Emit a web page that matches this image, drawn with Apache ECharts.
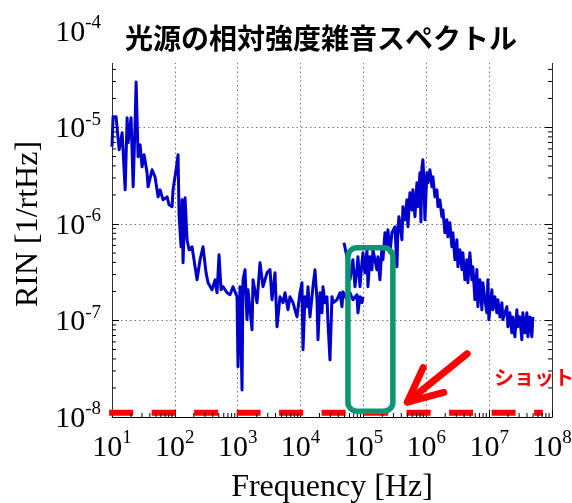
<!DOCTYPE html>
<html>
<head>
<meta charset="utf-8">
<script src="https://cdn.jsdelivr.net/npm/echarts@6/dist/echarts.min.js"></script>
<style>
  html, body { margin: 0; padding: 0; background: #fff; }
  #chart { width: 572px; height: 503px; }
</style>
</head>
<body>
<div id="chart"></div>
<script>
// Relative intensity noise of the light source, two overlapping measurement spans
const lowFreq = [
  10.0, 10.4, 11.6, 13.0, 14.5, 16.2, 17.4, 18.0, 20.1, 21.7,
  23.3, 24.2, 26.0, 28.0, 30.1, 32.4, 36.1, 37.5, 43.4, 48.4,
  54.1, 58.2, 64.9, 75.2, 80.9, 90.3, 93.6, 104.5, 112.4, 116.6,
  125.5, 130.2, 135.0, 145.3, 156.3, 168.2, 187.7, 209.6, 225.4, 251.6,
  280.8, 313.4, 337.3, 390.4, 435.8, 468.8, 504.5, 542.8, 584.1, 676.1,
  754.6, 842.2, 975, 1011, 1088, 1171, 1214, 1307, 1406, 1459,
  1689, 1752, 2028, 2263, 2526, 2924, 3264, 3512, 3920, 4217,
  4707, 5253, 5653, 6308, 6788, 7577, 8770, 9788, 10530, 10930,
  11750, 12650, 13120, 14110, 15750, 16950, 18240, 18920, 20360, 21910,
  22720, 24450, 26300, 27290, 29370, 31590, 32770, 37930, 42340, 45550,
  47250, 54700, 61050, 68140, 78890, 81830, 88060, 94730, 98260
];
const lowRin = [
  6.31e-6, 1.29e-5, 1.29e-5, 5.87e-6, 8.81e-6, 2.26e-6, 1.26e-5, 6.94e-6, 1.26e-5, 2.43e-6,
  1.12e-5, 2.97e-5, 4.97e-6, 6.62e-6, 3.91e-6, 5.21e-6, 3.39e-6, 2.43e-6, 3.65e-6, 3.08e-6,
  1.91e-6, 2.26e-6, 1.78e-6, 1.91e-6, 1.58e-6, 1.51e-6, 2.26e-6, 3.65e-6, 5.21e-6, 1.25e-6,
  5.80e-7, 1.78e-6, 3.96e-7, 1.87e-6, 6.86e-7, 5.40e-7, 5.80e-7, 3.60e-7, 2.64e-7, 4.26e-7,
  5.80e-7, 3.12e-7, 2.46e-7, 2.08e-7, 2.64e-7, 1.94e-7, 4.80e-7, 2.08e-7, 2.24e-7, 1.94e-7,
  1.85e-7, 2.24e-7, 1.76e-7, 3.31e-8, 2.24e-7, 1.91e-8, 2.64e-7, 3.35e-7, 1.02e-7, 2.08e-7,
  8.01e-8, 2.64e-7, 1.53e-7, 3.96e-7, 2.24e-7, 3.12e-7, 3.37e-7, 1.64e-7, 3.12e-7, 8.61e-8,
  1.76e-7, 1.53e-7, 1.94e-7, 1.29e-7, 1.76e-7, 1.53e-7, 1.09e-7, 1.94e-7, 2.46e-7, 4.97e-8,
  1.76e-7, 1.39e-7, 2.24e-7, 1.09e-7, 2.24e-7, 3.35e-7, 1.64e-7, 6.31e-8, 1.94e-7, 1.20e-7,
  2.24e-7, 1.53e-7, 1.76e-7, 9.47e-8, 3.91e-8, 1.76e-7, 1.53e-7, 1.64e-7, 1.94e-7, 1.39e-7,
  1.98e-7, 1.64e-7, 1.94e-7, 1.64e-7, 1.85e-7, 1.20e-7, 1.76e-7, 1.53e-7, 1.76e-7
];
const highFreq = [
  49000, 54700, 61100, 65700, 68100, 73300, 78900, 81800, 88100, 94700,
  98300, 105700, 113800, 118000, 127000, 136600, 141700, 164100, 170200, 183100,
  197000, 204400, 219900, 236600, 245400, 264100, 284100, 317100, 341200, 353900,
  367100, 409800, 425000, 457300, 492000, 510400, 549200, 590900, 613000, 659500,
  709600, 736000, 792000, 821500, 852200, 884000, 917000, 951000, 1.023e6, 1.061e6,
  1.142e6, 1.229e6, 1.275e6, 1.372e6, 1.476e6, 1.531e6, 1.647e6, 1.772e6, 1.838e6, 1.978e6,
  2.128e6, 2.208e6, 2.375e6, 2.556e6, 2.651e6, 2.852e6, 3.069e6, 3.184e6, 3.425e6, 3.686e6,
  3.823e6, 4.114e6, 4.426e6, 4.591e6, 4.940e6, 5.315e6, 5.513e6, 5.932e6, 6.383e6, 6.621e6,
  7.124e6, 7.665e6, 7.951e6, 8.556e6, 9.204e6, 9.548e6, 9.90e6, 1.105e7, 1.147e7, 1.234e7,
  1.327e7, 1.377e7, 1.482e7, 1.594e7, 1.654e7, 1.914e7, 1.986e7, 2.136e7, 2.298e7, 2.384e7,
  2.566e7, 2.761e7, 2.864e7, 3.081e7, 3.316e7, 3.439e7, 3.701e7, 3.981e7, 4.130e7, 4.444e7,
  4.781e7, 4.960e7
];
const highRin = [
  6.39e-7, 4.57e-7, 2.64e-7, 3.60e-7, 4.26e-7, 2.24e-7, 3.37e-7, 4.57e-7, 2.24e-7, 3.96e-7,
  5.03e-7, 3.12e-7, 5.40e-7, 2.24e-7, 4.57e-7, 3.35e-7, 5.40e-7, 3.35e-7, 4.57e-7, 2.64e-7,
  5.80e-7, 4.26e-7, 8.11e-7, 5.80e-7, 8.71e-7, 5.03e-7, 8.11e-7, 9.35e-7, 3.60e-7, 8.71e-7,
  1.19e-6, 6.86e-7, 1.51e-6, 1.105e-6, 1.78e-6, 9.35e-7, 2.11e-6, 1.40e-6, 2.26e-6, 1.19e-6,
  2.67e-6, 1.51e-6, 3.39e-6, 1.05e-6, 3.91e-6, 4.63e-6, 2.87e-6, 1.105e-6, 3.39e-6, 2.67e-6,
  3.65e-6, 2.43e-6, 3.08e-6, 1.91e-6, 2.26e-6, 1.51e-6, 1.78e-6, 1.19e-6, 1.40e-6, 8.11e-7,
  1.105e-6, 7.37e-7, 1.03e-6, 5.80e-7, 8.11e-7, 4.26e-7, 6.86e-7, 3.60e-7, 5.40e-7, 3.37e-7,
  5.03e-7, 2.64e-7, 4.26e-7, 2.46e-7, 5.03e-7, 2.64e-7, 3.60e-7, 1.64e-7, 3.37e-7, 1.39e-7,
  2.64e-7, 1.29e-7, 2.46e-7, 1.64e-7, 1.20e-7, 2.64e-7, 1.02e-7, 2.08e-7, 1.29e-7, 1.76e-7,
  1.20e-7, 1.64e-7, 1.09e-7, 1.53e-7, 1.02e-7, 1.39e-7, 8.61e-8, 1.20e-7, 7.46e-8, 1.09e-7,
  6.78e-8, 1.29e-7, 8.61e-8, 1.09e-7, 6.31e-8, 1.20e-7, 7.46e-8, 1.20e-7, 6.78e-8, 1.09e-7,
  6.78e-8, 1.09e-7
];

// Shot-noise level (dashed line) and its frequency span
const shotLevel = 1.11e-8;
const shotSpan = [9, 7.14e7];

// Highlighted band (frequency range, RIN range)
const boxFreq = [5.67e4, 2.94e5];
const boxRin = [1.146e-8, 5.67e-7];

// Arrow pointing at the shot-noise line: tail, tip, and the two barb ends
const arrowTail = [4.47e6, 4.52e-8];
const arrowTip = [5.0e5, 1.43e-8];
const arrowBarbA = [8.925e5, 3.25e-8];
const arrowBarbB = [1.9e6, 1.80e-8];
const shotLabelAt = [1.19e7, 2.55e-8];

// Axis ranges and decade ticks
const xRange = [1e1, 1e8];
const yRange = [1e-8, 1e-4];
const minorSteps = [2, 3, 4, 5, 6, 7, 8, 9];

const titleText = '光源の相対強度雑音スペクトル';
const shotText = 'ショット';
const xName = 'Frequency [Hz]';
const yName = 'RIN [1/rtHz]';

const serif = '"Liberation Serif", "Times New Roman", serif';
const cjk = '"Noto Sans CJK JP", "Noto Sans CJK SC", sans-serif';

function powLabel(v) {
  const e = Math.round(Math.log10(v));
  return '{b|10}{s|' + e + '}';
}
const powRich = {
  b: { fontFamily: serif, fontSize: 30, lineHeight: 34, color: '#000', verticalAlign: 'bottom' },
  s: { fontFamily: serif, fontSize: 19, lineHeight: 22, color: '#000', verticalAlign: 'top' }
};

const chart = echarts.init(document.getElementById('chart'), null, { renderer: 'canvas' });

const option = {
  animation: false,
  backgroundColor: '#fff',
  title: {
    text: titleText,
    left: 125, top: 24, padding: 0, z: 60,
    textStyle: { fontFamily: cjk, fontSize: 28, fontWeight: 'bold', color: '#000' }
  },
  grid: { left: 112, right: 20, top: 31, bottom: 86, containLabel: false, outerBoundsMode: 'none' },
  xAxis: {
    type: 'log', logBase: 10, min: xRange[0], max: xRange[1],
    name: xName, nameLocation: 'middle', nameGap: 55,
    nameTextStyle: { fontFamily: serif, fontSize: 32, color: '#000' },
    axisLine: { show: true, onZero: false, lineStyle: { color: '#000', width: 1 } },
    axisTick: { show: true, inside: true, length: 7, lineStyle: { color: '#000', width: 1 } },
    axisLabel: { margin: 12, formatter: powLabel, rich: powRich, showMinLabel: true, showMaxLabel: true },
    splitLine: { show: true, lineStyle: { color: '#777', width: 1, type: [1.5, 3] } }
  },
  yAxis: [
    {
      type: 'log', logBase: 10, min: yRange[0], max: yRange[1], position: 'left',
      name: yName, nameLocation: 'middle', nameGap: 66, nameRotate: 90,
      nameTextStyle: { fontFamily: serif, fontSize: 32, color: '#000' },
      axisLine: { show: true, onZero: false, lineStyle: { color: '#333', width: 1 } },
      axisTick: { show: true, inside: true, length: 7, lineStyle: { color: '#000', width: 1 } },
      axisLabel: { margin: 11, formatter: powLabel, rich: powRich, showMinLabel: true, showMaxLabel: true },
      splitLine: { show: true, lineStyle: { color: '#777', width: 1, type: [1.5, 3] } }
    },
    {
      type: 'log', logBase: 10, min: yRange[0], max: yRange[1], position: 'right',
      axisLine: { show: true, onZero: false, lineStyle: { color: '#333', width: 1 } },
      axisTick: { show: true, inside: true, length: 7, lineStyle: { color: '#000', width: 1 } },
      axisLabel: { show: false },
      splitLine: { show: false }
    }
  ],
  series: [
    {
      type: 'line', symbol: 'none', z: 3,
      data: lowFreq.map((f, i) => [f, lowRin[i]]),
      lineStyle: { color: '#0000cd', width: 3, join: 'round' }
    },
    {
      type: 'line', symbol: 'none', z: 3,
      data: highFreq.map((f, i) => [f, highRin[i]]),
      lineStyle: { color: '#0000cd', width: 3, join: 'round' }
    },
    {
      type: 'line', symbol: 'none', z: 4, clip: false,
      data: shotSpan.map(f => [f, shotLevel]),
      lineStyle: { color: '#ff0000', width: 6, type: [24, 18.5], cap: 'butt' }
    }
  ]
};
chart.setOption(option);

// Annotations placed through the axes' own scales
const toPx = (pt) => chart.convertToPixel({ xAxisIndex: 0, yAxisIndex: 0 }, pt);
const graphics = [];

// minor ticks at 2..9 within each decade
const [xl, yb] = toPx([xRange[0], yRange[0]]);
const [xr, yt] = toPx([xRange[1], yRange[1]]);
for (let k = 1; k < 8; k++) {
  for (const m of minorSteps) {
    const x = toPx([m * Math.pow(10, k), yRange[0]])[0];
    graphics.push({ type: 'line', z: 5, shape: { x1: x, y1: yb, x2: x, y2: yb - 4 }, style: { stroke: '#000', lineWidth: 1 } });
  }
}
for (let k = -8; k < -4; k++) {
  for (const m of minorSteps) {
    const y = toPx([xRange[0], m * Math.pow(10, k)])[1];
    graphics.push({ type: 'line', z: 5, shape: { x1: xl, y1: y, x2: xl + 4, y2: y }, style: { stroke: '#000', lineWidth: 1 } });
    graphics.push({ type: 'line', z: 5, shape: { x1: xr, y1: y, x2: xr - 4, y2: y }, style: { stroke: '#000', lineWidth: 1 } });
  }
}

// white band behind the title
graphics.push({ type: 'rect', z: 50, shape: { x: xl - 4, y: 18, width: xr - xl + 8, height: 45 }, style: { fill: '#fff' } });

// highlighted band
const b1 = toPx([boxFreq[0], boxRin[1]]);
const b2 = toPx([boxFreq[1], boxRin[0]]);
graphics.push({
  type: 'rect', z: 40,
  shape: { x: b1[0], y: b1[1], width: b2[0] - b1[0], height: b2[1] - b1[1], r: 9 },
  style: { fill: 'none', stroke: '#0b9672', lineWidth: 5.5 }
});

// arrow
const pT = toPx(arrowTail), pH = toPx(arrowTip), pA = toPx(arrowBarbA), pB = toPx(arrowBarbB);
const arrowStyle = { fill: 'none', stroke: '#ff0000', lineWidth: 7, lineCap: 'round', lineJoin: 'round' };
graphics.push({ type: 'polyline', z: 40, shape: { points: [pT, pH] }, style: arrowStyle });
graphics.push({ type: 'polyline', z: 40, shape: { points: [pA, pH, pB] }, style: arrowStyle });

// label
const pL = toPx(shotLabelAt);
graphics.push({
  type: 'text', z: 40, x: pL[0], y: pL[1],
  style: { text: shotText, fill: '#ff0000', font: 'bold 20px ' + cjk, align: 'left', verticalAlign: 'middle' }
});

chart.setOption({ graphic: graphics });
</script>
</body>
</html>
